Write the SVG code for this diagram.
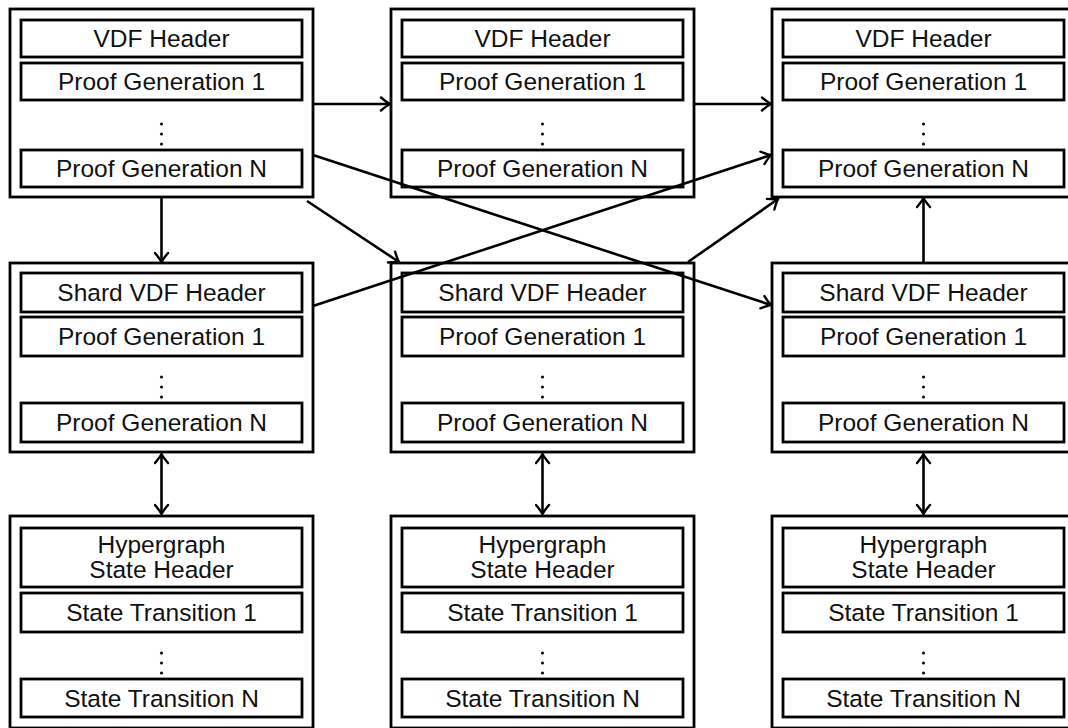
<svg xmlns="http://www.w3.org/2000/svg" width="1068" height="728" viewBox="0 0 1068 728">
  <style>
    .outer { fill: #ffffff; stroke: #000; stroke-width: 2.8; }
    .inner { fill: #ffffff; stroke: #000; stroke-width: 2.8; }
    .lbl { font-family: "Liberation Sans", Arial, Helvetica, sans-serif; font-size: 24.5px; fill: #111; text-anchor: middle; }
    .dot { fill: #111; }
    .edge { fill: none; stroke: #000; stroke-width: 2.6; }
    .one { marker-end: url(#tip); }
    .two { marker-start: url(#tip); marker-end: url(#tip); }
  </style>
  <defs>
    <marker id="tip" markerUnits="userSpaceOnUse" viewBox="-11 -8 13 16" markerWidth="13" markerHeight="16" refX="0" refY="0" orient="auto-start-reverse">
      <path d="M-9,-6.5 Q-3,-1.5 0,0 Q-3,1.5 -9,6.5" fill="none" stroke="#000" stroke-width="2.4" stroke-linecap="round"/>
    </marker>
  </defs>

  <!-- top row: VDF blocks -->
  <g id="vdf-1">
    <rect class="outer" x="10" y="9" width="303" height="188"/>
    <rect class="inner" x="21" y="20" width="281" height="37"/>
    <text class="lbl" x="161.5" y="47">VDF Header</text>
    <rect class="inner" x="21" y="63" width="281" height="37"/>
    <text class="lbl" x="161.5" y="90">Proof Generation 1</text>
    <circle class="dot" cx="161.5" cy="124" r="1.6"/><circle class="dot" cx="161.5" cy="134" r="1.6"/><circle class="dot" cx="161.5" cy="144" r="1.6"/>
    <rect class="inner" x="21" y="150" width="281" height="37"/>
    <text class="lbl" x="161.5" y="177">Proof Generation N</text>
  </g>
  <g id="vdf-2">
    <rect class="outer" x="391" y="9" width="303" height="188"/>
    <rect class="inner" x="402" y="20" width="281" height="37"/>
    <text class="lbl" x="542.5" y="47">VDF Header</text>
    <rect class="inner" x="402" y="63" width="281" height="37"/>
    <text class="lbl" x="542.5" y="90">Proof Generation 1</text>
    <circle class="dot" cx="542.5" cy="124" r="1.6"/><circle class="dot" cx="542.5" cy="134" r="1.6"/><circle class="dot" cx="542.5" cy="144" r="1.6"/>
    <rect class="inner" x="402" y="150" width="281" height="37"/>
    <text class="lbl" x="542.5" y="177">Proof Generation N</text>
  </g>
  <g id="vdf-3">
    <rect class="outer" x="772" y="9" width="303" height="188"/>
    <rect class="inner" x="783" y="20" width="281" height="37"/>
    <text class="lbl" x="923.5" y="47">VDF Header</text>
    <rect class="inner" x="783" y="63" width="281" height="37"/>
    <text class="lbl" x="923.5" y="90">Proof Generation 1</text>
    <circle class="dot" cx="923.5" cy="124" r="1.6"/><circle class="dot" cx="923.5" cy="134" r="1.6"/><circle class="dot" cx="923.5" cy="144" r="1.6"/>
    <rect class="inner" x="783" y="150" width="281" height="37"/>
    <text class="lbl" x="923.5" y="177">Proof Generation N</text>
  </g>

  <!-- middle row: shard VDF blocks -->
  <g id="shard-1">
    <rect class="outer" x="10" y="263" width="303" height="189"/>
    <rect class="inner" x="21" y="273" width="281" height="39"/>
    <text class="lbl" x="161.5" y="301">Shard VDF Header</text>
    <rect class="inner" x="21" y="317" width="281" height="39"/>
    <text class="lbl" x="161.5" y="345">Proof Generation 1</text>
    <circle class="dot" cx="161.5" cy="377" r="1.6"/><circle class="dot" cx="161.5" cy="387" r="1.6"/><circle class="dot" cx="161.5" cy="397" r="1.6"/>
    <rect class="inner" x="21" y="403" width="281" height="39"/>
    <text class="lbl" x="161.5" y="431">Proof Generation N</text>
  </g>
  <g id="shard-2">
    <rect class="outer" x="391" y="263" width="303" height="189"/>
    <rect class="inner" x="402" y="273" width="281" height="39"/>
    <text class="lbl" x="542.5" y="301">Shard VDF Header</text>
    <rect class="inner" x="402" y="317" width="281" height="39"/>
    <text class="lbl" x="542.5" y="345">Proof Generation 1</text>
    <circle class="dot" cx="542.5" cy="377" r="1.6"/><circle class="dot" cx="542.5" cy="387" r="1.6"/><circle class="dot" cx="542.5" cy="397" r="1.6"/>
    <rect class="inner" x="402" y="403" width="281" height="39"/>
    <text class="lbl" x="542.5" y="431">Proof Generation N</text>
  </g>
  <g id="shard-3">
    <rect class="outer" x="772" y="263" width="303" height="189"/>
    <rect class="inner" x="783" y="273" width="281" height="39"/>
    <text class="lbl" x="923.5" y="301">Shard VDF Header</text>
    <rect class="inner" x="783" y="317" width="281" height="39"/>
    <text class="lbl" x="923.5" y="345">Proof Generation 1</text>
    <circle class="dot" cx="923.5" cy="377" r="1.6"/><circle class="dot" cx="923.5" cy="387" r="1.6"/><circle class="dot" cx="923.5" cy="397" r="1.6"/>
    <rect class="inner" x="783" y="403" width="281" height="39"/>
    <text class="lbl" x="923.5" y="431">Proof Generation N</text>
  </g>

  <!-- bottom row: hypergraph state blocks -->
  <g id="state-1">
    <rect class="outer" x="10" y="516" width="303" height="212"/>
    <rect class="inner" x="21" y="528" width="281" height="59"/>
    <text class="lbl" x="161.5" y="553">Hypergraph</text>
    <text class="lbl" x="161.5" y="578">State Header</text>
    <rect class="inner" x="21" y="593" width="281" height="39"/>
    <text class="lbl" x="161.5" y="621">State Transition 1</text>
    <circle class="dot" cx="161.5" cy="653" r="1.6"/><circle class="dot" cx="161.5" cy="663" r="1.6"/><circle class="dot" cx="161.5" cy="673" r="1.6"/>
    <rect class="inner" x="21" y="679" width="281" height="38"/>
    <text class="lbl" x="161.5" y="706.5">State Transition N</text>
  </g>
  <g id="state-2">
    <rect class="outer" x="391" y="516" width="303" height="212"/>
    <rect class="inner" x="402" y="528" width="281" height="59"/>
    <text class="lbl" x="542.5" y="553">Hypergraph</text>
    <text class="lbl" x="542.5" y="578">State Header</text>
    <rect class="inner" x="402" y="593" width="281" height="39"/>
    <text class="lbl" x="542.5" y="621">State Transition 1</text>
    <circle class="dot" cx="542.5" cy="653" r="1.6"/><circle class="dot" cx="542.5" cy="663" r="1.6"/><circle class="dot" cx="542.5" cy="673" r="1.6"/>
    <rect class="inner" x="402" y="679" width="281" height="38"/>
    <text class="lbl" x="542.5" y="706.5">State Transition N</text>
  </g>
  <g id="state-3">
    <rect class="outer" x="772" y="516" width="303" height="212"/>
    <rect class="inner" x="783" y="528" width="281" height="59"/>
    <text class="lbl" x="923.5" y="553">Hypergraph</text>
    <text class="lbl" x="923.5" y="578">State Header</text>
    <rect class="inner" x="783" y="593" width="281" height="39"/>
    <text class="lbl" x="923.5" y="621">State Transition 1</text>
    <circle class="dot" cx="923.5" cy="653" r="1.6"/><circle class="dot" cx="923.5" cy="663" r="1.6"/><circle class="dot" cx="923.5" cy="673" r="1.6"/>
    <rect class="inner" x="783" y="679" width="281" height="38"/>
    <text class="lbl" x="923.5" y="706.5">State Transition N</text>
  </g>

  <!-- connectors -->
  <g id="connectors">
    <line class="edge one" x1="313" y1="104" x2="390" y2="104"/>
    <line class="edge one" x1="694" y1="104" x2="771" y2="104"/>
    <line class="edge one" x1="313" y1="155" x2="771" y2="305"/>
    <line class="edge one" x1="307" y1="201" x2="399" y2="262"/>
    <line class="edge one" x1="161.5" y1="197" x2="161.5" y2="262"/>
    <line class="edge one" x1="313" y1="306" x2="771" y2="155"/>
    <line class="edge one" x1="688" y1="262" x2="778" y2="199"/>
    <line class="edge one" x1="923.5" y1="263" x2="923.5" y2="198"/>
    <line class="edge two" x1="161.5" y1="454" x2="161.5" y2="514"/>
    <line class="edge two" x1="542.5" y1="454" x2="542.5" y2="514"/>
    <line class="edge two" x1="923.5" y1="454" x2="923.5" y2="514"/>
  </g>
</svg>
